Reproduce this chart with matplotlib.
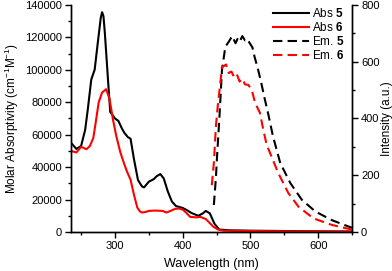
import matplotlib
matplotlib.use("Agg")
import matplotlib.pyplot as plt
from matplotlib.ticker import MultipleLocator

plt.rcParams['font.family'] = ['Liberation Sans', 'DejaVu Sans']
plt.rcParams['mathtext.fontset'] = 'custom'
plt.rcParams['mathtext.rm'] = 'Liberation Sans'
plt.rcParams['mathtext.bf'] = 'Liberation Sans:bold'

# absorption spectra (nm, cm-1 M-1)
abs5_wl = [235, 243, 250, 256, 260, 265, 270, 275, 279, 281, 283, 285, 290, 293, 300, 305, 310, 314,
           319, 323, 328, 334, 340, 343, 350, 357, 362, 367, 372, 378, 384, 390, 400, 406,
           413, 423, 430, 434, 440, 447, 454, 470, 500, 550, 600, 650]
abs5 = [55000, 51200, 53000, 63000, 76000, 94000, 100000, 118000, 132000, 135500, 133000, 123000,
        92000, 74000, 70000, 68500, 64000, 61000, 58500, 57500, 45000, 32000, 28000, 27500, 31000,
        32500, 34500, 35700, 33000, 25000, 18800, 16000, 14800, 13500, 11700, 10000, 11500, 13000,
        11500, 5000, 1500, 1000, 800, 600, 400, 300]

abs6_wl = [235, 243, 250, 258, 263, 268, 271, 276, 281, 287, 292, 297, 302, 308, 314, 318,
           323, 328, 333, 337, 340, 345, 350, 360, 370, 376, 382, 389, 395, 401, 406, 411,
           420, 426, 434, 440, 445, 452, 460, 500, 550, 600, 650]
abs6 = [50000, 49000, 52500, 51000, 53000, 58000, 66000, 80000, 86000, 88000, 82000, 69400,
        59000, 49000, 41500, 37000, 32200, 23000, 15000, 12600, 12000, 12300, 13000, 13200,
        13000, 12000, 13000, 14300, 14500, 13500, 11500, 9300, 9000, 9300, 8000, 5500, 3300,
        1500, 800, 600, 400, 300, 200]

# emission spectra (nm, a.u.)
em5_wl = [446, 449, 451, 454, 458, 463, 468, 473, 478, 481, 484, 488, 492, 495, 499, 503,
          506, 511, 516, 521, 526, 533, 544, 559, 576, 596, 620, 645, 650]
em5 = [95, 190, 278, 395, 571, 653, 670, 690, 665, 680, 670, 690, 675, 680, 665, 650,
       618, 575, 525, 470, 419, 340, 243, 172, 113, 72, 42, 19, 15]

em6_wl = [443, 446, 449, 452, 455, 458, 461, 464, 468, 472, 476, 480, 484, 488, 492, 497,
          502, 507, 514, 519, 524, 529, 541, 556, 571, 593, 620, 645, 650]
em6 = [165, 243, 371, 450, 512, 582, 585, 590, 560, 565, 545, 555, 530, 540, 520, 518,
       500, 454, 420, 360, 307, 278, 208, 137, 89, 48, 25, 11, 9]

fig = plt.figure(figsize=(3.92, 2.71), dpi=100)
ax = fig.add_axes([0.181, 0.144, 0.717, 0.838])
ax2 = ax.twinx()

l1, = ax.plot(abs5_wl, abs5, color='black', lw=1.5, label='Abs $\\mathbf{5}$')
l2, = ax.plot(abs6_wl, abs6, color='red', lw=1.5, label='Abs $\\mathbf{6}$')
l3, = ax2.plot(em5_wl, em5, color='black', lw=1.5, dashes=(4.5, 2.5), label='Em. $\\mathbf{5}$')
l4, = ax2.plot(em6_wl, em6, color='red', lw=1.5, dashes=(4.5, 2.5), label='Em. $\\mathbf{6}$')

ax.set_xlim(235, 650)
ax.set_ylim(0, 140000)
ax2.set_ylim(0, 800)

ax.xaxis.set_major_locator(MultipleLocator(100))
ax.xaxis.set_minor_locator(MultipleLocator(50))
ax.yaxis.set_major_locator(MultipleLocator(20000))
ax.yaxis.set_minor_locator(MultipleLocator(10000))
ax2.yaxis.set_major_locator(MultipleLocator(200))
ax2.yaxis.set_minor_locator(MultipleLocator(100))

for a in (ax, ax2):
    a.tick_params(which='major', direction='out', length=4, width=1, labelsize=8, pad=2.5)
    a.tick_params(which='minor', direction='out', length=2.5, width=1)
    for s in a.spines.values():
        s.set_linewidth(1)
ax.tick_params(which='both', top=False, right=False)
ax.spines['top'].set_visible(False)
ax2.spines['top'].set_visible(False)

ax.set_xlabel('Wavelength (nm)', fontsize=9, labelpad=5)
ax.set_ylabel('Molar Absorptivity (cm$^{-1}$M$^{-1}$)', fontsize=8.5, labelpad=3)
ax2.set_ylabel('Intensity (a.u.)', fontsize=8.5, labelpad=1)

ax2.legend(handles=[l1, l2, l3, l4], loc='upper right', frameon=False, fontsize=8.5,
           handlelength=3.0, handletextpad=0.3, labelspacing=0.08,
           borderaxespad=0.0, bbox_to_anchor=(0.99, 1.01))

fig.savefig('out.png', dpi=100)
